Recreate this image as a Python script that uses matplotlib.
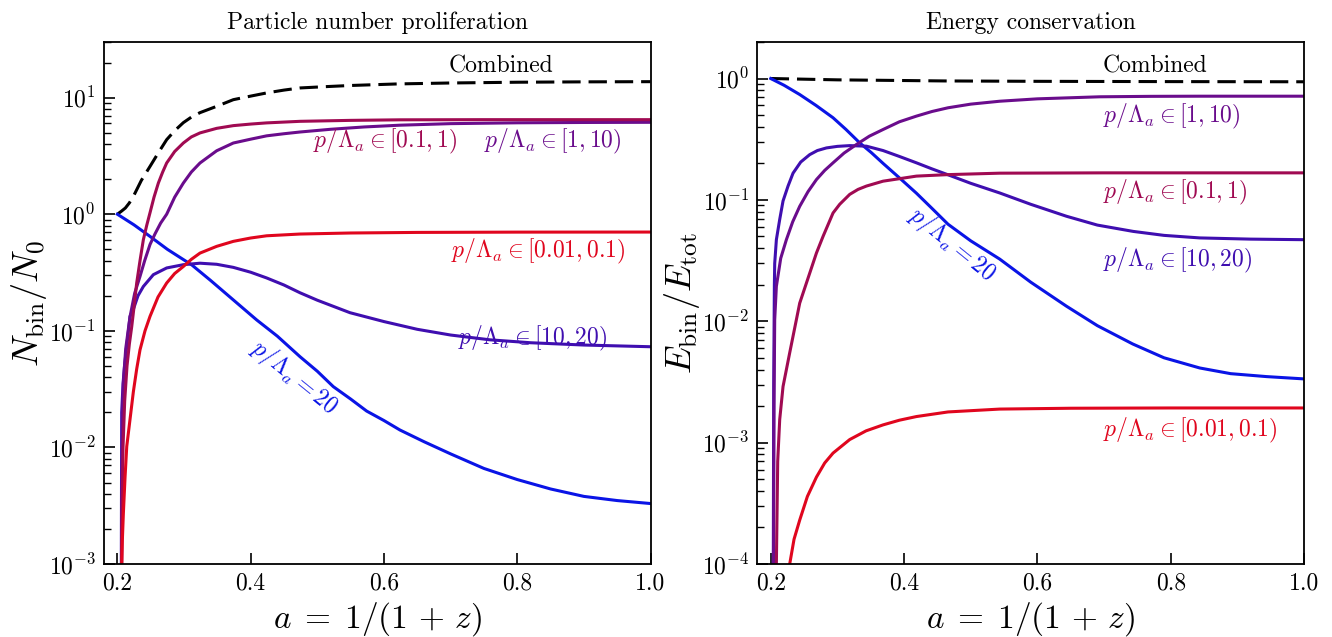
import matplotlib
matplotlib.use("Agg")
import matplotlib.pyplot as plt

plt.rcParams['font.family'] = ['cmr10', 'DejaVu Serif']
plt.rcParams['mathtext.fontset'] = 'cm'
plt.rcParams['axes.formatter.use_mathtext'] = True
plt.rcParams['axes.unicode_minus'] = False

# ---------------- data: left panel (N_bin / N_0) ----------------
N_comb_a = [0.200, 0.206, 0.212, 0.218, 0.224, 0.236, 0.249, 0.262, 0.274, 0.286, 0.299, 0.311, 0.324,
            0.349, 0.374, 0.400, 0.424, 0.450, 0.474, 0.510, 0.549, 0.620, 0.700, 0.800, 0.900, 1.000]
N_comb_y = [1.00, 1.06, 1.13, 1.25, 1.42, 1.95, 2.57, 3.40, 4.36, 5.20, 6.10, 6.80, 7.43,
            8.42, 9.60, 10.3, 10.97, 11.6, 12.1, 12.4, 12.7, 13.1, 13.35, 13.55, 13.65, 13.7]

N_b20_a = [0.200, 0.225, 0.249, 0.275, 0.312, 0.340, 0.374, 0.409, 0.440, 0.474, 0.500, 0.524, 0.550,
           0.574, 0.600, 0.624, 0.660, 0.700, 0.750, 0.800, 0.850, 0.900, 0.950, 1.000]
N_b20_y = [1.00, 0.81, 0.645, 0.50, 0.366, 0.27, 0.184, 0.124, 0.090, 0.060, 0.045, 0.0332, 0.026,
           0.0205, 0.017, 0.0141, 0.0112, 0.0088, 0.0066, 0.0053, 0.0044, 0.0038, 0.0035, 0.0033]

N_b10_a = [0.2055, 0.2065, 0.2085, 0.2106, 0.219, 0.224, 0.231, 0.239, 0.254, 0.274, 0.299, 0.324, 0.349,
           0.374, 0.400, 0.424, 0.450, 0.474, 0.500, 0.549, 0.600, 0.650, 0.700, 0.759, 0.820, 0.900, 1.000]
N_b10_y = [1e-4, 0.020, 0.035, 0.049, 0.133, 0.153, 0.200, 0.240, 0.303, 0.346, 0.369, 0.380, 0.372,
           0.350, 0.318, 0.284, 0.247, 0.212, 0.183, 0.143, 0.120, 0.103, 0.092, 0.0837, 0.079, 0.0755, 0.073]

N_b1_a = [0.2055, 0.2068, 0.208, 0.209, 0.2125, 0.219, 0.226, 0.234, 0.241, 0.249, 0.2566, 0.265, 0.274,
          0.286, 0.299, 0.311, 0.324, 0.349, 0.374, 0.400, 0.424, 0.450, 0.474, 0.520, 0.570, 0.624,
          0.700, 0.800, 0.900, 1.000]
N_b1_y = [1e-4, 0.005, 0.020, 0.0356, 0.070, 0.132, 0.210, 0.293, 0.400, 0.550, 0.680, 0.840, 1.00,
          1.40, 1.85, 2.30, 2.75, 3.50, 4.08, 4.40, 4.70, 4.90, 5.07, 5.35, 5.60, 5.80,
          5.98, 6.08, 6.12, 6.14]

N_b01_a = [0.2055, 0.2068, 0.2085, 0.211, 0.2145, 0.218, 0.2216, 0.225, 0.229, 0.234, 0.239, 0.244, 0.249,
           0.255, 0.2615, 0.268, 0.274, 0.286, 0.299, 0.311, 0.324, 0.349, 0.374, 0.400, 0.424, 0.474,
           0.550, 0.624, 0.750, 1.000]
N_b01_y = [1e-4, 2e-3, 0.010, 0.025, 0.050, 0.077, 0.109, 0.160, 0.257, 0.400, 0.604, 0.800, 1.03,
           1.40, 1.85, 2.30, 2.75, 3.45, 4.08, 4.60, 4.98, 5.45, 5.75, 5.93, 6.07, 6.26,
           6.38, 6.45, 6.47, 6.47]

N_b001_a = [0.2066, 0.2075, 0.209, 0.2115, 0.2141, 0.219, 0.224, 0.229, 0.234, 0.2415, 0.249, 0.261, 0.274,
            0.286, 0.299, 0.311, 0.324, 0.349, 0.374, 0.400, 0.424, 0.474, 0.550, 0.650, 0.800, 1.000]
N_b001_y = [1.0e-3, 1.6e-3, 2.7e-3, 5.5e-3, 0.0102, 0.0174, 0.030, 0.047, 0.0687, 0.100, 0.133, 0.195, 0.257,
            0.310, 0.356, 0.410, 0.464, 0.530, 0.585, 0.625, 0.653, 0.676, 0.690, 0.698, 0.702, 0.703]

# ---------------- data: right panel (E_bin / E_tot) ----------------
E_comb_a = [0.200, 0.300, 0.460, 0.600, 0.800, 1.000]
E_comb_y = [1.00, 0.975, 0.955, 0.948, 0.943, 0.940]

E_b20_a = [0.200, 0.220, 0.2435, 0.268, 0.2935, 0.313, 0.3335, 0.351, 0.3685, 0.393, 0.4186, 0.442, 0.466,
           0.500, 0.5436, 0.590, 0.6437, 0.690, 0.743, 0.790, 0.8437, 0.890, 0.9437, 1.000]
E_b20_y = [1.00, 0.88, 0.738, 0.60, 0.475, 0.38, 0.295, 0.245, 0.200, 0.152, 0.1135, 0.085, 0.063,
           0.046, 0.0325, 0.021, 0.0133, 0.0092, 0.0065, 0.0050, 0.00412, 0.0037, 0.0035, 0.00335]

E_b10_a = [0.2035, 0.2045, 0.2055, 0.206, 0.2085, 0.2135, 0.2185, 0.226, 0.2335, 0.245, 0.2585, 0.270, 0.2836,
           0.300, 0.3185, 0.3436, 0.3685, 0.393, 0.4186, 0.442, 0.466, 0.500, 0.5436, 0.590, 0.6437, 0.690,
           0.7437, 0.790, 0.8437, 0.920, 1.000]
E_b10_y = [1e-5, 3e-3, 0.020, 0.030, 0.047, 0.069, 0.098, 0.130, 0.166, 0.205, 0.236, 0.255, 0.268,
           0.276, 0.280, 0.277, 0.255, 0.228, 0.202, 0.180, 0.161, 0.137, 0.114, 0.092, 0.0733, 0.062,
           0.055, 0.051, 0.0486, 0.0475, 0.047]

E_b1_a = [0.2035, 0.205, 0.206, 0.2085, 0.215, 0.2235, 0.233, 0.2435, 0.256, 0.2686, 0.281, 0.2935, 0.310,
          0.3286, 0.348, 0.3685, 0.393, 0.4186, 0.442, 0.466, 0.500, 0.5436, 0.600, 0.6936, 0.770, 0.8437, 1.000]
E_b1_y = [1e-5, 2e-3, 0.0103, 0.0194, 0.033, 0.047, 0.066, 0.0885, 0.117, 0.147, 0.175, 0.202, 0.243,
          0.286, 0.335, 0.380, 0.440, 0.490, 0.535, 0.574, 0.615, 0.650, 0.680, 0.707, 0.713, 0.715, 0.715]

E_b01_a = [0.2075, 0.2085, 0.2105, 0.2135, 0.2185, 0.2285, 0.2435, 0.2686, 0.2785, 0.2935, 0.3035, 0.3185,
           0.331, 0.3436, 0.3685, 0.4186, 0.466, 0.5436, 0.700, 1.000]
E_b01_y = [1e-5, 1e-4, 7e-4, 1.55e-3, 2.9e-3, 5.5e-3, 0.0141, 0.0365, 0.050, 0.078, 0.092, 0.111,
           0.122, 0.130, 0.1426, 0.157, 0.1615, 0.166, 0.167, 0.167]

E_b001_a = [0.226, 0.2285, 0.235, 0.2435, 0.255, 0.2686, 0.281, 0.2935, 0.3185, 0.343, 0.3685, 0.393, 0.4186,
            0.466, 0.5436, 0.650, 0.800, 1.000]
E_b001_y = [5e-5, 1.0e-4, 1.6e-4, 2.3e-4, 3.6e-4, 5.2e-4, 6.8e-4, 8.2e-4, 1.06e-3, 1.25e-3, 1.4e-3, 1.53e-3, 1.64e-3,
            1.79e-3, 1.89e-3, 1.92e-3, 1.93e-3, 1.93e-3]

bin_labels = [r'$p/\Lambda_a = 20$', r'$p/\Lambda_a \in [10, 20)$', r'$p/\Lambda_a \in [1, 10)$',
              r'$p/\Lambda_a \in [0.1, 1)$', r'$p/\Lambda_a \in [0.01, 0.1)$']
colors = ['#0a14e6', '#3f0eb0', '#6a0c8c', '#a00a52', '#e0061e']

xticks = [0.2, 0.4, 0.6, 0.8, 1.0]

fig = plt.figure(figsize=(13.32, 6.37), dpi=100)
axL = fig.add_axes([0.0781, 0.1146, 0.4103, 0.8195])
axR = fig.add_axes([0.5686, 0.1146, 0.4104, 0.8195])

lw = 2.2
dash = (0, (6, 2.6))
axL.plot(N_comb_a, N_comb_y, color='black', lw=lw, ls=dash)
for (a, y), c in zip([(N_b20_a, N_b20_y), (N_b10_a, N_b10_y), (N_b1_a, N_b1_y),
                      (N_b01_a, N_b01_y), (N_b001_a, N_b001_y)], colors):
    axL.plot(a, y, color=c, lw=lw)
axR.plot(E_comb_a, E_comb_y, color='black', lw=lw, ls=dash)
for (a, y), c in zip([(E_b20_a, E_b20_y), (E_b10_a, E_b10_y), (E_b1_a, E_b1_y),
                      (E_b01_a, E_b01_y), (E_b001_a, E_b001_y)], colors):
    axR.plot(a, y, color=c, lw=lw)

for ax in (axL, axR):
    ax.set_yscale('log')
    ax.set_xlim(0.18, 1.0)
    ax.set_xticks(xticks)
    ax.set_xticklabels([f'{t:.1f}' for t in xticks])
    ax.tick_params(which='both', direction='in', labelsize=17, top=False, right=False)
    ax.tick_params(which='major', length=8, width=1.2, pad=6)
    ax.tick_params(which='minor', length=5, width=1.0)
    for s in ax.spines.values():
        s.set_linewidth(1.3)
    ax.set_xlabel(r'$a \;=\; 1/(1 \,+\, z)$', fontsize=24, labelpad=4)

axL.set_ylim(1e-3, 30)
axR.set_ylim(1e-4, 2.0)
axL.set_ylabel(r'$N_{\rm bin}/N_0$', fontsize=26, labelpad=0)
axR.set_ylabel(r'$E_{\rm bin}/E_{\rm tot}$', fontsize=26, labelpad=0)
axL.set_title('Particle number proliferation', fontsize=17, pad=9)
axR.set_title('Energy conservation', fontsize=17, pad=9)

fs = 17
axL.text(0.7755, 18.5, 'Combined', fontsize=fs, ha='center', va='center', color='black')
axL.text(0.6015, 4.19, bin_labels[3], fontsize=fs, ha='center', va='center', color=colors[3])
axL.text(0.8535, 4.19, bin_labels[2], fontsize=fs, ha='center', va='center', color=colors[2])
axL.text(0.831, 0.477, bin_labels[4], fontsize=fs, ha='center', va='center', color=colors[4])
axL.text(0.8235, 0.0854, bin_labels[1], fontsize=fs, ha='center', va='center', color=colors[1])
axL.text(0.466, 0.0400, bin_labels[0], fontsize=fs, ha='center', va='center', color=colors[0],
         rotation=-39, rotation_mode='anchor')
axR.text(0.776, 1.256, 'Combined', fontsize=fs, ha='center', va='center', color='black')
axR.text(0.8017, 0.486, bin_labels[2], fontsize=fs, ha='center', va='center', color=colors[2])
axR.text(0.806, 0.115, bin_labels[3], fontsize=fs, ha='center', va='center', color=colors[3])
axR.text(0.8107, 0.0316, bin_labels[1], fontsize=fs, ha='center', va='center', color=colors[1])
axR.text(0.8287, 1.25e-3, bin_labels[4], fontsize=fs, ha='center', va='center', color=colors[4])
axR.text(0.473, 0.0428, bin_labels[0], fontsize=fs, ha='center', va='center', color=colors[0],
         rotation=-39, rotation_mode='anchor')

fig.savefig('out.png', dpi=100)
